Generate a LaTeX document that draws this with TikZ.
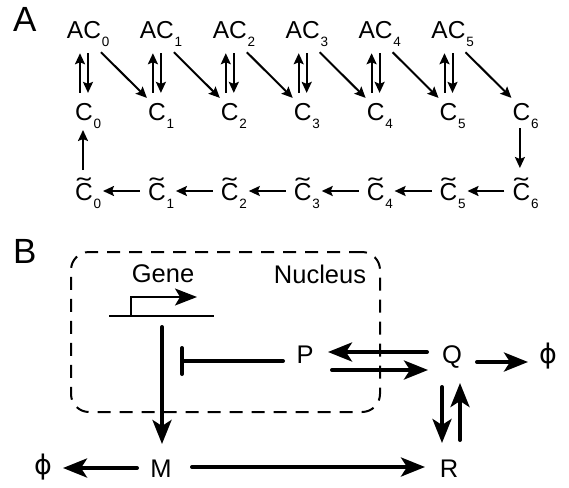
\documentclass[tikz,border=0pt]{standalone}
\usepackage{graphicx}
\usepackage{fontspec}
\setmainfont{Liberation Sans}
\newfontfamily\dejavu{DejaVu Sans}
\usetikzlibrary{arrows.meta}
\newcommand\sbs[1]{\rlap{\kern0.8pt\smash{\raisebox{-8.5pt}{\fontsize{13.5}{14}\selectfont #1}}}}
\newcommand\tilC{\ooalign{C\cr\hidewidth\raisebox{0.18em}{\scalebox{1.7}[1]{\char"02DC}}\hidewidth\cr}}
\begin{document}
\begin{tikzpicture}[x=1pt,y=-1pt,
  every node/.style={inner sep=0pt, outer sep=0pt, font=\fontsize{24.5}{28}\selectfont},
  arrA/.style={line width=2pt, -{Stealth[length=11pt,width=10pt,inset=2pt]}},
  arrB/.style={line width=4pt, line cap=round, -{Stealth[length=24pt,width=19pt,inset=6pt]}},
  lab/.style={anchor=base, font=\fontsize{25.5}{30}\selectfont},
  phi/.style={anchor=base, font=\dejavu\fontsize{27}{30}\selectfont},
  panel/.style={anchor=base west, font=\fontsize{35}{40}\selectfont}]
\useasboundingbox (0,0) rectangle (569,487);
\node[panel] (pA) at (13,32) {A};
\node[panel] (pB) at (13,263) {B};
% Panel A
\foreach \i in {0,...,5}{
  \node[anchor=base] (AC\i) at ({84+72.9*\i},38) {AC\sbs{\i}};
}
\foreach \i in {0,...,6}{
  \node[anchor=base] (C\i) at ({84+72.9*\i},120) {C\sbs{\i}};
  \node[anchor=base] (T\i) at ({84+72.9*\i},200) {\tilC\sbs{\i}};
}
\foreach \i in {0,...,5}{
  \pgfmathtruncatemacro\j{\i+1}
  \draw[arrA] ([shift={(-4,-10)}]C\i.north) -- ([shift={(-4,15)}]AC\i.south);
  \draw[arrA] ([shift={(4,15)}]AC\i.south) -- ([shift={(4,-10)}]C\i.north);
  \draw[arrA] ([shift={(17,14)}]AC\i.south) -- ([shift={(-10,-5)}]C\j.north);
  \draw[arrA] ([shift={(-17,-9)}]T\j.base) -- ([shift={(19,-9)}]T\i.base);
}
\draw[arrA] ([shift={(-1,-30)}]T0.base) -- ([shift={(-1,10)}]C0.base);
\draw[arrA] ([shift={(-1.5,8)}]C6.base) -- ([shift={(-1.5,-32)}]T6.base);
% Panel B
\node[draw, line width=2pt, dash pattern=on 13pt off 9pt, rounded corners=18pt,
      minimum width=309pt, minimum height=160pt] (nuc) at (225.5,332) {};
\node[lab] (gene) at (163,282) {Gene};
\node[lab] (nucl) at (320,283) {Nucleus};
\node[lab] (P) at (305,363) {P};
\node[lab] (Q) at (452,363) {Q};
\node[phi] (phiR) at (548,363) {ϕ};
\node[lab] (R) at (449,477) {R};
\node[lab] (M) at (161,477) {M};
\node[phi] (phiL) at (43,474) {ϕ};
\draw[line width=1.5pt] ([shift={(-54,34)}]gene.base) -- ([shift={(51,34)}]gene.base);
\draw[line width=1.5pt, -{Stealth[length=22pt,width=17pt,inset=5pt]}]
  ([shift={(-32,34)}]gene.base) |- ([shift={(34,15)}]gene.base);
\draw[arrB] ([shift={(-1,45)}]gene.base) -- ([shift={(1,-33)}]M.base);
\draw[line width=4pt, line cap=round, -{Bar[width=26pt,round]}]
  ([shift={(-22,-2)}]P.base) -- ([shift={(-125,-2)}]P.base);
\draw[arrB] ([shift={(-25,-11)}]Q.base) -- ([shift={(23,-11)}]P.base);
\draw[arrB] ([shift={(27,7)}]P.base) -- ([shift={(-24,7)}]Q.base);
\draw[arrB] ([shift={(25,-1)}]Q.base) -- ([shift={(-20,-1)}]phiR.base);
\draw[arrB] ([shift={(-10,24)}]Q.base) -- ([shift={(-7,-34)}]R.base);
\draw[arrB] ([shift={(11,-37)}]R.base) -- ([shift={(8,20)}]Q.base);
\draw[arrB] ([shift={(31,-10)}]M.base) -- ([shift={(-24,-10)}]R.base);
\draw[arrB] ([shift={(-24,-9)}]M.base) -- ([shift={(20,-6)}]phiL.base);
\end{tikzpicture}
\end{document}
